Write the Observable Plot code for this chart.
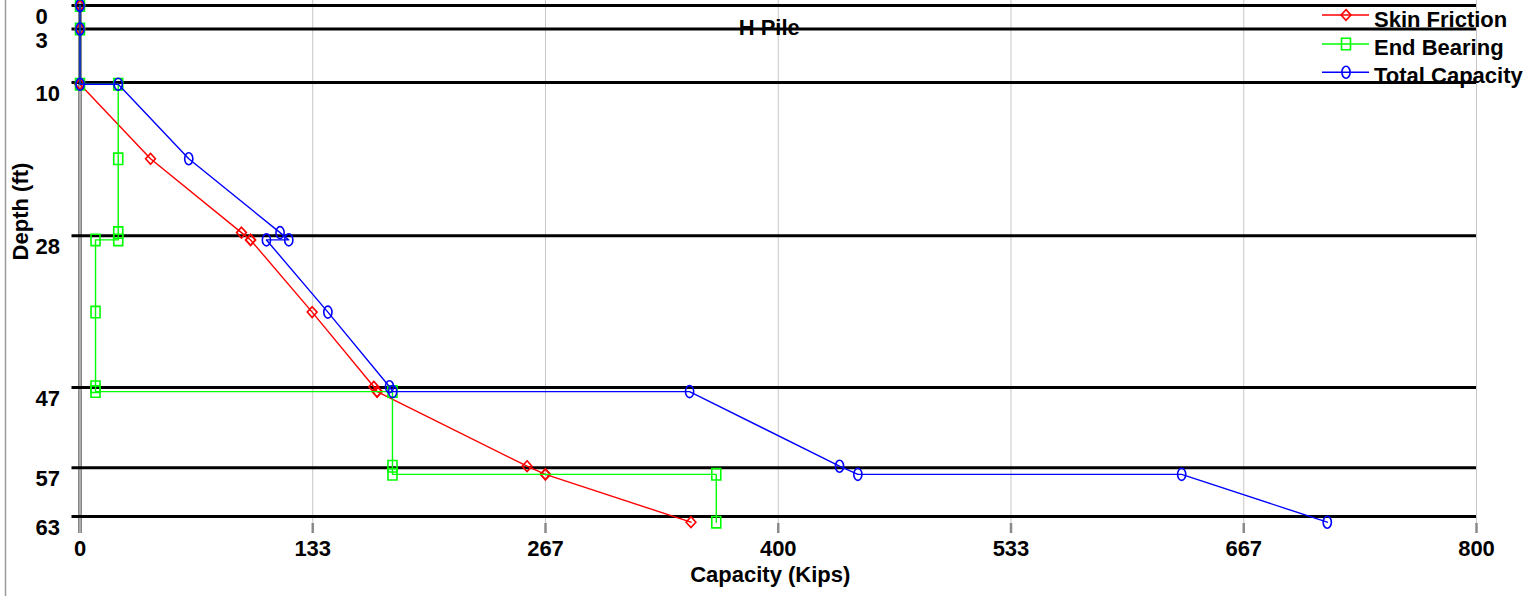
<!DOCTYPE html>
<html><head><meta charset="utf-8">
<script src="https://cdn.jsdelivr.net/npm/d3@7"></script>
<script src="https://cdn.jsdelivr.net/npm/@observablehq/plot@0.6"></script>
<style>
html,body{margin:0;padding:0;background:#fff;}
#chart{position:relative;width:1526px;height:596px;overflow:hidden;}
svg{display:block}
</style></head><body><div id="chart"></div>
<script>
// ---- data ----
const depths        = [0, 2.9, 9.7, 9.7, 18.9, 28.0, 28.9, 28.9, 37.8, 47.0, 47.6, 47.6, 56.8, 57.8, 57.8, 63.7];
const skinFriction  = [0, 0, 0, 0, 40.4, 92.5, 97.7, 97.7, 133.0, 168.3, 170.2, 170.2, 256.1, 266.6, 266.6, 350.0];
const endBearing    = [0, 0, 0, 21.9, 21.9, 21.9, 21.9, 8.9, 8.9, 8.9, 8.9, 179.0, 179.0, 179.0, 364.5, 364.5];
const totalCapacity = [0, 0, 0, 21.9, 62.3, 114.6, 119.6, 106.8, 142.0, 177.3, 179.1, 349.2, 435.1, 445.6, 631.1, 714.5];

const seriesNames  = ["Skin Friction", "End Bearing", "Total Capacity"];
const seriesColors = ["#ff0000", "#00ff00", "#0000ff"];

const layerDepths     = [0, 2.9, 9.5, 28.4, 47.1, 57.0, 63.0];
const depthTickLabels = ["0", "3", "10", "28", "47", "57", "63"];
const capacityTicks      = [0, 133.33, 266.67, 400, 533.33, 666.67, 800];
const capacityTickLabels = ["0", "133", "267", "400", "533", "667", "800"];

const chartTitle = "H Pile";
const xTitle = "Capacity (Kips)";
const yTitle = "Depth (ft)";

// ---- marker shapes ----
const diamondSym = {draw(c){ c.moveTo(0,-5.4); c.lineTo(4.9,0); c.lineTo(0,5.4); c.lineTo(-4.9,0); c.closePath(); }};
const rectSym = {draw(c){ c.moveTo(-4.5,-5.7); c.lineTo(4.5,-5.7); c.lineTo(4.5,5.7); c.lineTo(-4.5,5.7); c.closePath(); }};
const ellipseSym = {draw(c){
  const rx = 4.1, ry = 6, k = 0.5523;
  c.moveTo(rx,0);
  c.bezierCurveTo(rx, ry*k, rx*k, ry, 0, ry);
  c.bezierCurveTo(-rx*k, ry, -rx, ry*k, -rx, 0);
  c.bezierCurveTo(-rx, -ry*k, -rx*k, -ry, 0, -ry);
  c.bezierCurveTo(rx*k, -ry, rx, -ry*k, rx, 0);
  c.closePath();
}};
const symbols = [diamondSym, rectSym, ellipseSym];
const seriesValues = [skinFriction, endBearing, totalCapacity];

const seriesRows = seriesValues.map(vals => depths.map((d, i) => ({depth: d, value: vals[i]})));

const FONT = "'Liberation Sans', Arial, Helvetica, sans-serif";

const seriesMarks = seriesRows.flatMap((rows, s) => [
  Plot.line(rows, {x: "value", y: "depth", stroke: seriesColors[s], strokeWidth: 1.4}),
  Plot.dot(rows, {x: "value", y: "depth", stroke: seriesColors[s], strokeWidth: 1.6, fill: "none", symbol: symbols[s]})
]);

const svg = Plot.plot({
  width: 1526,
  height: 596,
  marginLeft: 79.5,
  marginRight: 50,
  marginTop: 5,
  marginBottom: 73,
  style: {fontFamily: FONT, fontSize: "22px", fontWeight: "bold", color: "black", background: "white", overflow: "visible"},
  x: {domain: [0, 800], label: null, axis: null},
  y: {domain: [0, 63.86], reverse: true, label: null, axis: null},
  marks: [
    // vertical grid lines
    Plot.ruleX(capacityTicks.slice(1), {stroke: "#c6c6c6", strokeWidth: 1, insetTop: -5}),
    // x tick marks
    Plot.axisX(capacityTicks.slice(1), {tickSize: 10, stroke: "#8a8a8a", strokeWidth: 2.5, fill: "none", label: null}),
    // y axis double line
    Plot.ruleX([0], {stroke: "#6a6a6a", strokeWidth: 3.6, insetTop: -5, insetBottom: -10}),
    Plot.ruleX([0], {stroke: "#d8d8d8", strokeWidth: 1.2, insetTop: -5, insetBottom: -10}),
    // layer boundary lines
    Plot.ruleY(layerDepths, {stroke: "black", strokeWidth: 3, insetLeft: -8}),
    // title
    Plot.text([chartTitle], {frameAnchor: "top", lineAnchor: "middle", textAnchor: "middle", dx: -9, dy: 22.5, fill: "black"}),
    // series
    ...seriesMarks,
    // x tick labels
    Plot.text(capacityTicks, {x: d => d, text: (d, i) => capacityTickLabels[i], frameAnchor: "bottom", lineAnchor: "middle", dy: 25.5, fill: "black"}),
    // y tick labels
    Plot.text(layerDepths, {y: d => d, text: (d, i) => depthTickLabels[i], frameAnchor: "left", lineAnchor: "middle", textAnchor: "start", dx: -44.5, dy: 11.5, fill: "black"}),
    // axis titles
    Plot.text([xTitle], {frameAnchor: "bottom", lineAnchor: "middle", textAnchor: "middle", dx: -8, dy: 51.5, fill: "black"}),
    Plot.text([yTitle], {frameAnchor: "left", lineAnchor: "middle", textAnchor: "middle", rotate: -90, dx: -59, dy: -53, fill: "black"})
  ]
});

// left border of the figure
const sel = d3.select(svg);
sel.append("line").attr("x1", 5.5).attr("x2", 5.5).attr("y1", 0).attr("y2", 596)
  .attr("stroke", "#9a9a9a").attr("stroke-width", 1.5);

// legend
const lg = sel.append("g").attr("font-family", FONT).attr("font-weight", "bold").attr("font-size", 22).attr("text-anchor", "start");
const legendLineY = [15, 44, 72.3];
const legendTextY = [27, 55, 83];
seriesNames.forEach((name, i) => {
  lg.append("line").attr("x1", 1322).attr("x2", 1369).attr("y1", legendLineY[i]).attr("y2", legendLineY[i])
    .attr("stroke", seriesColors[i]).attr("stroke-width", 1.4);
  const p = d3.path(); symbols[i].draw(p);
  lg.append("path").attr("d", p.toString()).attr("transform", `translate(1346,${legendLineY[i]})`)
    .attr("fill", "none").attr("stroke", seriesColors[i]).attr("stroke-width", 1.6);
  lg.append("text").attr("x", 1374).attr("y", legendTextY[i]).attr("fill", "black").attr("text-anchor", "start").text(name);
});

document.getElementById("chart").appendChild(svg);
</script>
</body></html>
